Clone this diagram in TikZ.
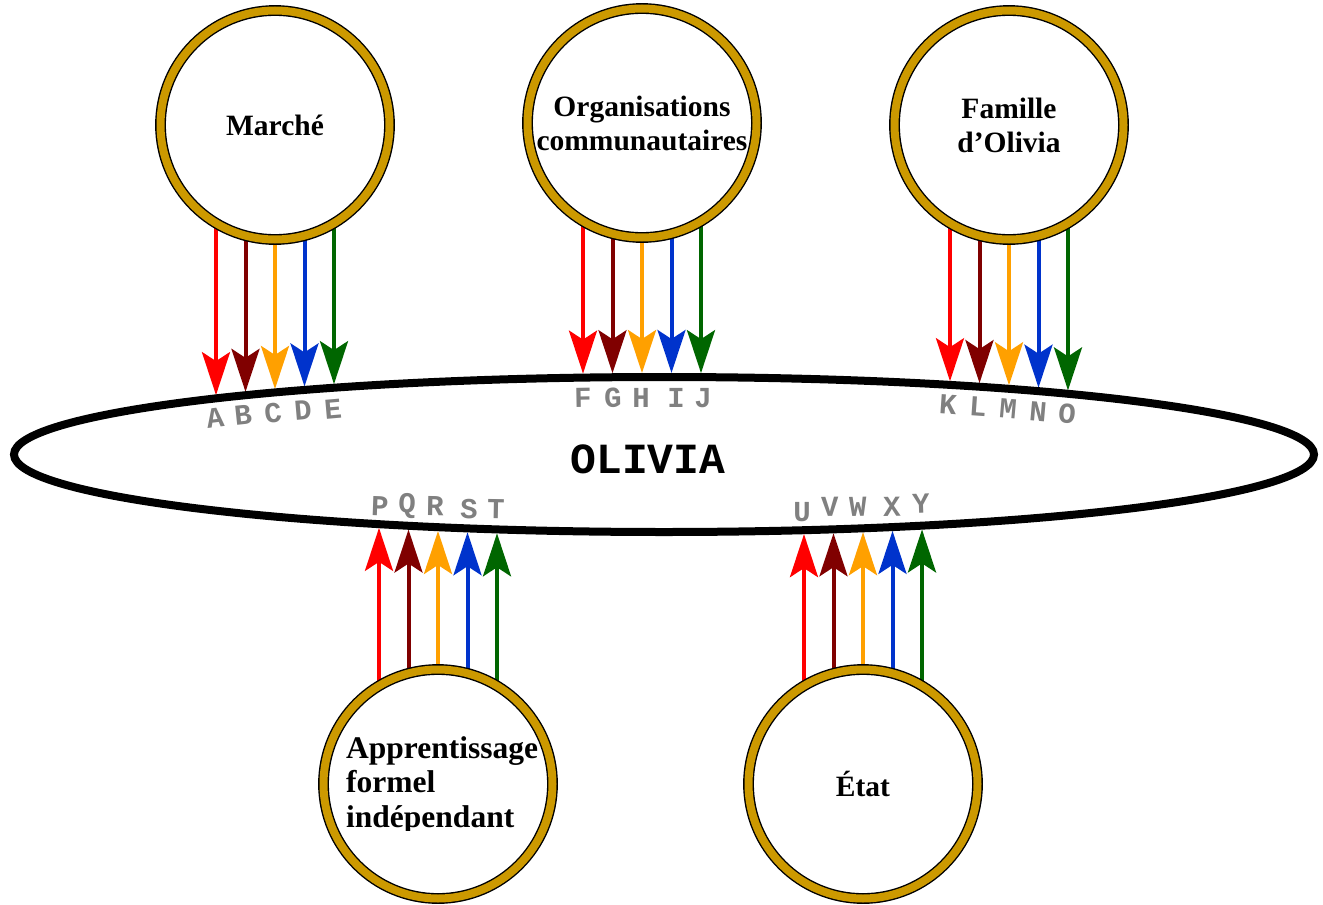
\documentclass[tikz,border=0pt]{standalone}
\usepackage{fontspec}
\setmainfont{Liberation Serif}
\newfontfamily\monofont{Liberation Mono}
\usetikzlibrary{arrows.meta,shapes.geometric,backgrounds,calc}
\definecolor{ringGold}{HTML}{CC9900}
\definecolor{fRed}{HTML}{FF0000}
\definecolor{fDark}{HTML}{800000}
\definecolor{fOrange}{HTML}{FFA000}
\definecolor{fBlue}{HTML}{0033CC}
\definecolor{fGreen}{HTML}{006600}
\definecolor{tagGray}{HTML}{808080}
\begin{document}
\begin{tikzpicture}[x=1pt,y=-1pt,
  agent/.style={circle, draw=black, line width=1.4pt, double=ringGold, double distance=8pt,
    fill=white, minimum size=229pt, inner sep=0pt, align=center,
    font=\bfseries\fontsize{29.5}{34}\selectfont},
  flow/.style={line width=4pt, -{Stealth[length=43pt,width=28pt,inset=9pt]}},
  tag/.style={text=tagGray, inner sep=0pt, font=\monofont\bfseries\fontsize{29}{29}\selectfont},
  bigname/.style={inner sep=0pt, font=\monofont\bfseries\fontsize{43}{43}\selectfont}]
\useasboundingbox (0,0) rectangle (1323,905);

% central ellipse
\node[ellipse, draw=black, line width=8pt, minimum width=1300pt, minimum height=155pt, inner sep=0pt] (olivia) at (664,454.5) {};
\node[bigname] (oliviaLabel) at (648,459) {OLIVIA};

% agents
\node[agent] (marche) at (275,125) {Marché};
\node[agent] (orgs) at (642,123) {Organisations\\communautaires};
\node[agent] (famille) at (1009,125) {Famille\\d’Olivia};
\node[agent] (appr) at (438,784) {};
\node[agent] (etat) at (863,784) {État};
\begin{scope}
  \clip (300,700) rectangle (560,830);
  \node[anchor=base west, align=left, inner sep=0pt, font=\bfseries\fontsize{31.5}{34.5}\selectfont] (apprText) at (346,827) {Apprentissage\\formel\\indépendant};
\end{scope}

% flows
\begin{scope}[on background layer]
\foreach \n/\cx/\s in {marche/275/-1, orgs/642/-1, famille/1009/-1, appr/438/1, etat/863/1} {
  \foreach \dx/\c [count=\i] in {-59/fRed,-29.5/fDark,0/fOrange,29.5/fBlue,59/fGreen} {
    \pgfmathsetmacro\X{\cx+\dx}
    \pgfmathsetmacro\Y{454.5+\s*81.5*sqrt(1-((\X-664)/654)^2)}
    \coordinate (\n-tip-\i) at (\X,\Y);
    \draw[flow,\c] ($(\n.center)+(\dx,0)$) -- (\n-tip-\i);
  }
}
\end{scope}

% letters
\foreach \t/\x/\y/\r in {A/215/418/7, B/243/415/6, C/273/413/6, D/303/410/5, E/333/409/5,
  F/583/398/1, G/613/398/1, H/641/398/0, I/676/398/0, J/703/398/0,
  K/948/405/-4, L/978/407/-4, M/1008/409/-5, N/1038/412/-5, O/1067/414/-5,
  P/380/506/-2, Q/407/506/-2, R/435/506/-1, S/469/509/-1, T/496/509/-1,
  U/802/512/0, V/830/507/1, W/858/507/1, X/892/507/1, Y/921/504/2}
  \node[tag, rotate=\r] (tag-\t) at (\x,\y) {\t};
\end{tikzpicture}
\end{document}
